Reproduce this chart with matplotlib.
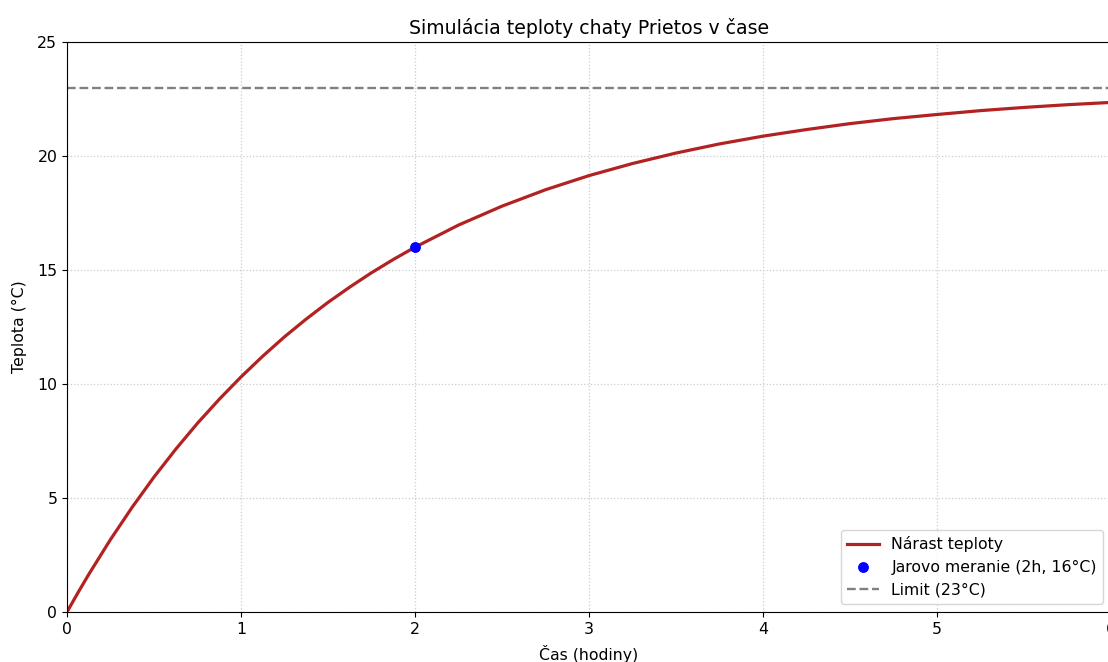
import matplotlib
matplotlib.use('Agg')
import matplotlib.pyplot as plt

# temperature (denser where it bends most)
cas = [0, 0.0625, 0.125, 0.25, 0.375, 0.5, 0.625, 0.75, 0.875, 1, 1.125,
       1.25, 1.375, 1.5, 1.625, 1.75, 1.875, 2, 2.25, 2.5, 2.75, 3,
       3.25, 3.5, 3.75, 4, 4.25, 4.5, 4.75, 5, 5.25, 5.5, 5.75, 6]
teplota = [0, 0.84, 1.65, 3.18, 4.60, 5.92, 7.14, 8.28, 9.33, 10.31, 11.22,
           12.07, 12.85, 13.58, 14.25, 14.88, 15.46, 16.0, 16.97,
           17.80, 18.52, 19.14, 19.67, 20.13, 20.53, 20.87, 21.16, 21.42,
           21.64, 21.82, 21.99, 22.13, 22.25, 22.35]
meranie_t = [2]
meranie_T = [16]
limit = 23

plt.rcParams['font.size'] = 11.3

fig = plt.figure(figsize=(11.08, 6.62), dpi=100)
ax = fig.add_axes([67/1108, 50/662, 1044/1108, 570/662])

ax.plot(cas, teplota, color='#b22222', lw=2.3, label='Nárast teploty')
ax.plot(meranie_t, meranie_T, 'o', color='blue', markersize=6.8,
        label='Jarovo meranie (2h, 16°C)')
ax.axhline(limit, color='gray', ls='--', lw=1.7, label='Limit (23°C)')

ax.set_xlim(0, 6)
ax.set_ylim(0, 25)
ax.set_title('Simulácia teploty chaty Prietos v čase', fontsize=13.6)
ax.set_xlabel('Čas (hodiny)', labelpad=6)
ax.set_ylabel('Teplota (°C)', labelpad=7)
ax.grid(True, ls=':', color='#cccccc', lw=0.9)
ax.legend(loc='lower right')

fig.savefig('out.png', dpi=100)
